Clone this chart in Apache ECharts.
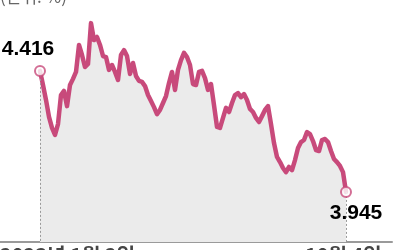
<!DOCTYPE html>
<html><head><meta charset="utf-8">
<script src="https://cdn.jsdelivr.net/npm/echarts@6/dist/echarts.min.js"></script>
<style>html,body{margin:0;padding:0;background:#fff}#c{width:400px;height:250px}</style>
</head><body><div id="c"></div>
<script>
// Yield (%) – trading days, evenly spaced
const yields = [
 4.416,4.361,4.303,4.237,4.194,4.167,4.209,4.322,4.338,4.279,
 4.361,4.385,4.412,4.517,4.478,4.431,4.443,4.602,4.536,4.548,
 4.517,4.474,4.470,4.420,4.439,4.412,4.381,4.478,4.497,4.474,
 4.404,4.447,4.396,4.377,4.373,4.357,4.322,4.299,4.275,4.248,
 4.264,4.291,4.318,4.369,4.412,4.342,4.420,4.458,4.486,4.470,
 4.439,4.365,4.361,4.412,4.416,4.388,4.342,4.365,4.283,4.198,
 4.194,4.233,4.272,4.256,4.291,4.322,4.330,4.314,4.326,4.303,
 4.268,4.256,4.233,4.217,4.240,4.264,4.279,4.209,4.135,4.081,
 4.061,4.038,4.022,4.042,4.030,4.069,4.116,4.139,4.147,4.178,
 4.170,4.143,4.108,4.104,4.147,4.151,4.139,4.104,4.073,4.061,
 4.046,4.022,3.945
];
const unitLabel = '(단위: %)';
const startLabel = '2023년 1월 2일';
const endLabel = '10월 4일';
const yMin = 3.75, yMax = 4.692;

const lineData = yields.map((v,i)=>[i,v]);
const last = yields.length-1;
const chart = echarts.init(document.getElementById('c'));
const pink = '#c84a7b';
chart.setOption({
  animation:false,
  grid:{left:0,right:8,top:0,bottom:8},
  xAxis:{type:'value',min:-40/3,max:(392-40)/3,
    axisLine:{show:true,lineStyle:{color:'#9a9a9a',width:2}},
    axisTick:{show:false},axisLabel:{show:false},splitLine:{show:false}},
  yAxis:{type:'value',min:yMin,max:yMax,show:false,splitLine:{show:false}},
  series:[
    {type:'line',data:lineData,showSymbol:false,symbol:'none',
     lineStyle:{color:pink,width:4.5,join:'round',cap:'round'},
     areaStyle:{color:'#ebebeb',opacity:1,origin:'start'},
     markLine:{silent:true,symbol:['none','none'],label:{show:false},
       lineStyle:{color:'#9a9a9a',type:[2,2],width:1},
       data:[
         [{coord:[0,yields[0]]},{coord:[0,yMin]}],
         [{coord:[last,yields[last]]},{coord:[last,yMin]}]
       ]},
     z:2},
    {type:'scatter',symbol:'circle',symbolSize:10,z:5,
     itemStyle:{color:'#fff',borderColor:pink,borderWidth:2},
     data:[
       {value:[0,yields[0]],label:{show:true,position:'top',offset:[-12,0]}},
       {value:[last,yields[last]],label:{show:true,position:'bottom',offset:[10,0]}}
     ],
     label:{formatter:p=>p.value[1].toFixed(3),color:'#000',fontSize:21,fontWeight:900,
       textBorderWidth:0,opacity:1,
       fontFamily:'Liberation Sans, Arial, sans-serif'}}
  ],
  graphic:[
    {type:'text',left:0,top:-12,style:{text:unitLabel,fill:'#666',font:'17px "Noto Sans CJK KR", sans-serif'}},
    {type:'text',left:0,top:245,style:{text:startLabel,fill:'#444',font:'bold 20px "Noto Sans CJK KR", sans-serif'}},
    {type:'text',left:305,top:245,style:{text:endLabel,fill:'#444',font:'bold 20px "Noto Sans CJK KR", sans-serif'}}
  ]
});
</script></body></html>
